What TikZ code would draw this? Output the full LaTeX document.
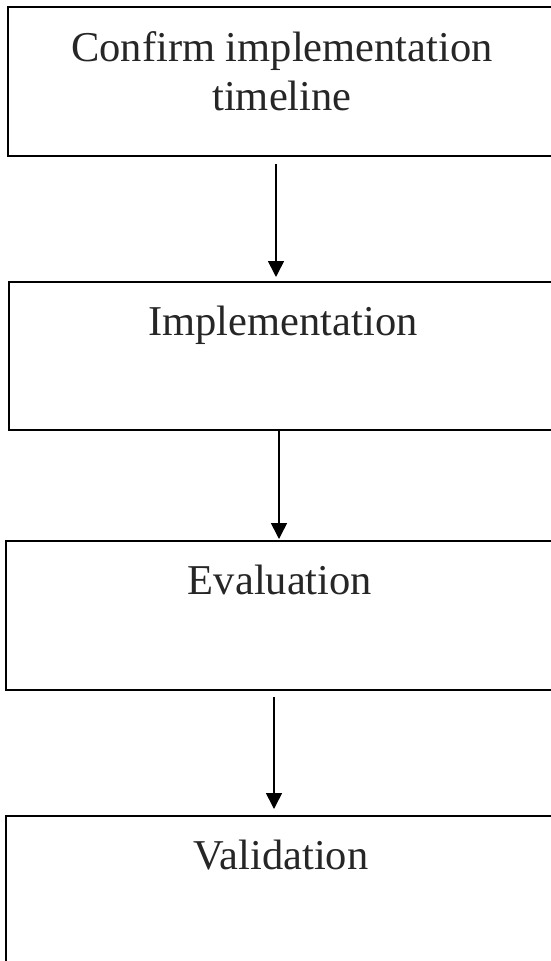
\documentclass[tikz,border=0pt]{standalone}
\usepackage{fontspec}
\setmainfont{Liberation Serif}
\usetikzlibrary{arrows.meta}
\begin{document}
\begin{tikzpicture}[x=1pt,y=-1pt,
  box/.style={draw=black, line width=2.2pt, rectangle, inner sep=0pt, outer sep=0pt},
  txt/.style={anchor=base, inner sep=0pt, align=center, text=black!85,
    font=\fontsize{42.5}{49}\selectfont},
  arr/.style={draw=black, line width=1.6pt, -{Triangle[length=16pt,width=16pt]}}]
\useasboundingbox (0,0) rectangle (550,961);
\node[box, minimum width=544pt, minimum height=149pt] (b1) at (280,81.5) {};
\node[box, minimum width=543pt, minimum height=148pt] (b2) at (280.5,356) {};
\node[box, minimum width=546pt, minimum height=149pt] (b3) at (279,615.5) {};
\node[box, minimum width=546pt, minimum height=160pt] (b4) at (279,896) {};
\node[txt] (t1) at (282,110.7) {Confirm implementation\\timeline};
\node[txt] (t2) at (283,335) {Implementation};
\node[txt] (t3) at (280,594) {Evaluation};
\node[txt] (t4) at (281,869) {Validation};
\draw[arr, shorten <=8pt, shorten >=5pt] (b1.south -| 276,0) -- (b2.north -| 276,0);
\draw[arr, shorten >=2pt] (b2.south -| 279,0) -- (b3.north -| 279,0);
\draw[arr, shorten <=7pt, shorten >=7pt] (b3.south -| 274,0) -- (b4.north -| 274,0);
\end{tikzpicture}
\end{document}
